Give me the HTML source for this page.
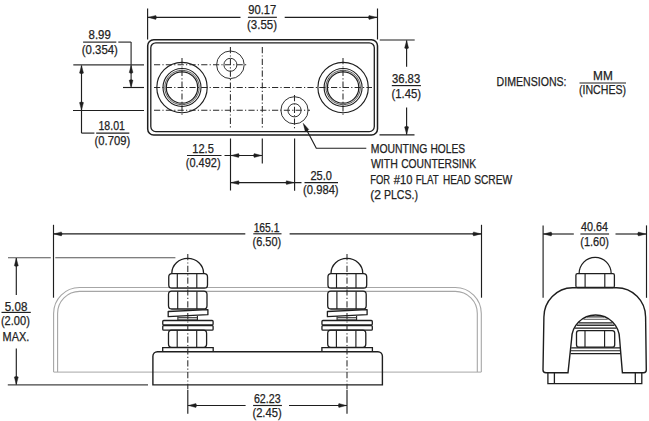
<!DOCTYPE html>
<html><head><meta charset="utf-8"><title>Fuse holder dimensions</title><style>
html,body{margin:0;padding:0;background:#fff;overflow:hidden;}
svg{display:block;}
text{font-family:"Liberation Sans",sans-serif;fill:#222;stroke:#222;stroke-width:0.25px;}
</style></head><body>
<svg width="649" height="421" viewBox="0 0 649 421">
<rect width="649" height="421" fill="#fff"/>
<rect x="147.7" y="39.8" width="229.8" height="95.2" rx="6" ry="6" stroke="#1e1e1e" stroke-width="1.5" fill="none"/>
<rect x="150.8" y="42.8" width="223.5" height="88.8" rx="5" ry="5" stroke="#1e1e1e" stroke-width="1.3" fill="none"/>
<line x1="147.6" y1="8.5" x2="147.6" y2="39.5" stroke="#1e1e1e" stroke-width="1.15" />
<line x1="377.5" y1="8.5" x2="377.5" y2="39.5" stroke="#1e1e1e" stroke-width="1.15" />
<line x1="147.6" y1="17.4" x2="240.5" y2="17.4" stroke="#1e1e1e" stroke-width="1.15" />
<line x1="284.7" y1="17.4" x2="377.5" y2="17.4" stroke="#1e1e1e" stroke-width="1.15" />
<path d="M148.30,17.40 L155.80,15.40 L156.60,17.40 L155.80,19.40 Z" fill="#1e1e1e" stroke="#1e1e1e" stroke-width="0.4"/>
<path d="M376.60,17.40 L369.10,19.40 L368.30,17.40 L369.10,15.40 Z" fill="#1e1e1e" stroke="#1e1e1e" stroke-width="0.4"/>
<line x1="247.9" y1="17.3" x2="276.9" y2="17.3" stroke="#1e1e1e" stroke-width="1.15" />
<line x1="379.7" y1="40" x2="414.7" y2="40" stroke="#1e1e1e" stroke-width="1.15" />
<line x1="379.5" y1="134.9" x2="414.5" y2="134.9" stroke="#1e1e1e" stroke-width="1.15" />
<line x1="406.6" y1="40.5" x2="406.6" y2="66.7" stroke="#1e1e1e" stroke-width="1.15" />
<line x1="406.6" y1="107.5" x2="406.6" y2="134.5" stroke="#1e1e1e" stroke-width="1.15" />
<path d="M406.60,40.60 L408.60,48.10 L406.60,48.90 L404.60,48.10 Z" fill="#1e1e1e" stroke="#1e1e1e" stroke-width="0.4"/>
<path d="M406.60,134.40 L404.60,126.90 L406.60,126.10 L408.60,126.90 Z" fill="#1e1e1e" stroke="#1e1e1e" stroke-width="0.4"/>
<line x1="391.8" y1="85.6" x2="420.9" y2="85.6" stroke="#1e1e1e" stroke-width="1.15" />
<line x1="73.3" y1="64.8" x2="144" y2="64.8" stroke="#333" stroke-width="1.2" />
<line x1="123" y1="87.5" x2="144" y2="87.5" stroke="#1e1e1e" stroke-width="1.15" />
<line x1="73" y1="110.45" x2="144" y2="110.45" stroke="#1e1e1e" stroke-width="1.15" />
<line x1="83.1" y1="42.1" x2="116.3" y2="42.1" stroke="#333" stroke-width="1.2" />
<line x1="118.3" y1="42.1" x2="131.1" y2="42.1" stroke="#333" stroke-width="1.2" />
<line x1="131.1" y1="42.1" x2="131.1" y2="86.5" stroke="#333" stroke-width="1.2" />
<path d="M131.10,65.60 L133.00,72.60 L131.10,73.40 L129.20,72.60 Z" fill="#1e1e1e" stroke="#1e1e1e" stroke-width="0.4"/>
<path d="M131.10,87.30 L129.20,80.30 L131.10,79.50 L133.00,80.30 Z" fill="#1e1e1e" stroke="#1e1e1e" stroke-width="0.4"/>
<line x1="81.5" y1="65.5" x2="81.5" y2="133.1" stroke="#1e1e1e" stroke-width="1.15" />
<line x1="81.5" y1="133.1" x2="94.4" y2="133.1" stroke="#1e1e1e" stroke-width="1.15" />
<line x1="96.2" y1="133.1" x2="129.3" y2="133.1" stroke="#1e1e1e" stroke-width="1.15" />
<path d="M81.50,65.60 L83.50,73.10 L81.50,73.90 L79.50,73.10 Z" fill="#1e1e1e" stroke="#1e1e1e" stroke-width="0.4"/>
<path d="M81.50,110.10 L79.50,102.60 L81.50,101.80 L83.50,102.60 Z" fill="#1e1e1e" stroke="#1e1e1e" stroke-width="0.4"/>
<line x1="154" y1="64.8" x2="248" y2="64.8" stroke="#2a2a2a" stroke-width="1.05" stroke-dasharray="6.2 2.2 1.2 2.2"/>
<line x1="154" y1="87.5" x2="372" y2="87.5" stroke="#2a2a2a" stroke-width="1.05" stroke-dasharray="6.2 2.2 1.2 2.2"/>
<line x1="154" y1="110.3" x2="310" y2="110.3" stroke="#2a2a2a" stroke-width="1.05" stroke-dasharray="6.2 2.2 1.2 2.2"/>
<line x1="182" y1="58" x2="182" y2="117" stroke="#2a2a2a" stroke-width="1.05" stroke-dasharray="6.2 2.2 1.2 2.2"/>
<line x1="343" y1="58" x2="343" y2="117" stroke="#2a2a2a" stroke-width="1.05" stroke-dasharray="6.2 2.2 1.2 2.2"/>
<line x1="230.4" y1="47" x2="230.4" y2="129" stroke="#2a2a2a" stroke-width="1.05" stroke-dasharray="6.2 2.2 1.2 2.2"/>
<line x1="262.3" y1="47" x2="262.3" y2="129" stroke="#2a2a2a" stroke-width="1.05" stroke-dasharray="6.2 2.2 1.2 2.2"/>
<line x1="294.5" y1="95" x2="294.5" y2="129" stroke="#2a2a2a" stroke-width="1.05" stroke-dasharray="6.2 2.2 1.2 2.2"/>
<circle cx="182" cy="87.5" r="25.2" stroke="#1e1e1e" stroke-width="1.15" fill="none"/>
<circle cx="182" cy="87.5" r="19.0" stroke="#1e1e1e" stroke-width="1.1" fill="none"/>
<circle cx="182" cy="87.5" r="17.2" stroke="#444" stroke-width="0.9" fill="none"/>
<circle cx="182" cy="87.5" r="15.7" stroke="#1e1e1e" stroke-width="1.2" fill="none"/>
<circle cx="343.1" cy="87.5" r="25.2" stroke="#1e1e1e" stroke-width="1.15" fill="none"/>
<circle cx="343.1" cy="87.5" r="19.0" stroke="#1e1e1e" stroke-width="1.1" fill="none"/>
<circle cx="343.1" cy="87.5" r="17.2" stroke="#444" stroke-width="0.9" fill="none"/>
<circle cx="343.1" cy="87.5" r="15.7" stroke="#1e1e1e" stroke-width="1.2" fill="none"/>
<circle cx="230.4" cy="64.8" r="13.8" stroke="#333" stroke-width="1.0" fill="none"/>
<circle cx="230.4" cy="64.8" r="6.5" stroke="#333" stroke-width="1.0" fill="none"/>
<circle cx="294.5" cy="110.3" r="13.6" stroke="#333" stroke-width="1.0" fill="none"/>
<circle cx="294.5" cy="110.3" r="6.6" stroke="#333" stroke-width="1.0" fill="none"/>
<line x1="230.5" y1="138.5" x2="230.5" y2="190.5" stroke="#1e1e1e" stroke-width="1.15" />
<line x1="262.3" y1="138.5" x2="262.3" y2="163.5" stroke="#1e1e1e" stroke-width="1.15" />
<line x1="294.6" y1="138.5" x2="294.6" y2="190.7" stroke="#1e1e1e" stroke-width="1.15" />
<line x1="187" y1="155.5" x2="221.5" y2="155.5" stroke="#1e1e1e" stroke-width="1.15" />
<line x1="224.5" y1="155.5" x2="262" y2="155.5" stroke="#1e1e1e" stroke-width="1.15" />
<path d="M231.10,155.50 L238.60,153.60 L239.40,155.50 L238.60,157.40 Z" fill="#1e1e1e" stroke="#1e1e1e" stroke-width="0.4"/>
<path d="M261.70,155.50 L254.20,157.40 L253.40,155.50 L254.20,153.60 Z" fill="#1e1e1e" stroke="#1e1e1e" stroke-width="0.4"/>
<line x1="231" y1="182.6" x2="301.5" y2="182.6" stroke="#1e1e1e" stroke-width="1.15" />
<line x1="304.5" y1="182.6" x2="338" y2="182.6" stroke="#1e1e1e" stroke-width="1.15" />
<path d="M231.10,182.60 L238.60,180.70 L239.40,182.60 L238.60,184.50 Z" fill="#1e1e1e" stroke="#1e1e1e" stroke-width="0.4"/>
<path d="M294.00,182.60 L286.50,184.50 L285.70,182.60 L286.50,180.70 Z" fill="#1e1e1e" stroke="#1e1e1e" stroke-width="0.4"/>
<path d="M304.3,125.5 L316.3,148.2 L366.3,148.2" stroke="#1e1e1e" stroke-width="1.15" fill="none" />
<path d="M303.20,123.30 L308.73,129.41 L307.35,131.06 L305.20,131.30 Z" fill="#1e1e1e" stroke="#1e1e1e" stroke-width="0.4"/>
<line x1="579.5" y1="83" x2="626" y2="83" stroke="#1e1e1e" stroke-width="1.15" />
<path d="M53.6,372 L53.6,313.5 A26,26 0 0 1 79.6,287.5 L455.3,287.5 A26,26 0 0 1 481.3,313.5 L481.3,372" stroke="#a6a6a6" stroke-width="1.1" fill="none" />
<path d="M57.6,372 L57.6,313.5 A22,22 0 0 1 79.6,291.4 L455.3,291.4 A22,22 0 0 1 477.3,313.5 L477.3,372" stroke="#a6a6a6" stroke-width="1.1" fill="none" />
<line x1="53.6" y1="372.1" x2="481.3" y2="372.1" stroke="#a6a6a6" stroke-width="1.0" />
<line x1="53.5" y1="224.8" x2="53.5" y2="297.7" stroke="#1e1e1e" stroke-width="1.15" />
<line x1="481.5" y1="224.8" x2="481.5" y2="297.7" stroke="#1e1e1e" stroke-width="1.15" />
<line x1="53.5" y1="233.9" x2="245.3" y2="233.9" stroke="#1e1e1e" stroke-width="1.15" />
<line x1="289.6" y1="233.9" x2="481.5" y2="233.9" stroke="#1e1e1e" stroke-width="1.15" />
<path d="M53.90,233.90 L61.40,231.90 L62.20,233.90 L61.40,235.90 Z" fill="#1e1e1e" stroke="#1e1e1e" stroke-width="0.4"/>
<path d="M481.00,233.90 L473.50,235.90 L472.70,233.90 L473.50,231.90 Z" fill="#1e1e1e" stroke="#1e1e1e" stroke-width="0.4"/>
<line x1="253.3" y1="233.8" x2="281.5" y2="233.8" stroke="#1e1e1e" stroke-width="1.15" />
<line x1="8" y1="257.7" x2="50.8" y2="257.7" stroke="#555" stroke-width="1.1" />
<line x1="55.3" y1="257.7" x2="175.4" y2="257.7" stroke="#555" stroke-width="1.1" />
<line x1="7.8" y1="384.85" x2="148" y2="384.85" stroke="#444" stroke-width="1.2" />
<line x1="16.3" y1="258" x2="16.3" y2="295.1" stroke="#1e1e1e" stroke-width="1.15" />
<line x1="16.3" y1="348.4" x2="16.3" y2="384.5" stroke="#1e1e1e" stroke-width="1.15" />
<path d="M16.30,258.30 L18.30,265.80 L16.30,266.60 L14.30,265.80 Z" fill="#1e1e1e" stroke="#1e1e1e" stroke-width="0.4"/>
<path d="M16.30,384.50 L14.30,377.00 L16.30,376.20 L18.30,377.00 Z" fill="#1e1e1e" stroke="#1e1e1e" stroke-width="0.4"/>
<line x1="1.5" y1="312.4" x2="30.8" y2="312.4" stroke="#1e1e1e" stroke-width="1.15" />
<path d="M152.9,384.9 L152.9,356.3 A4.5,4.5 0 0 1 157.4,351.8 L377.9,351.8 A4.5,4.5 0 0 1 382.4,356.3 L382.4,384.9 Z" stroke="#1e1e1e" stroke-width="1.4" fill="none" />
<path d="M171.8,273.2 A15.8,14.8 0 0 1 203.6,273.2" stroke="#1e1e1e" stroke-width="1.3" fill="none" />
<rect x="168.75" y="273.7" width="38.75" height="14.400000000000034" rx="3.2" ry="3.2" stroke="#1e1e1e" stroke-width="1.3" fill="none"/>
<line x1="177.3" y1="274" x2="177.3" y2="288" stroke="#1e1e1e" stroke-width="1.15" />
<line x1="196.8" y1="274" x2="196.8" y2="288" stroke="#1e1e1e" stroke-width="1.15" />
<rect x="168.5" y="291.2" width="38.5" height="17.80000000000001" rx="3.2" ry="3.2" stroke="#1e1e1e" stroke-width="1.3" fill="none"/>
<line x1="177.7" y1="291.5" x2="177.7" y2="309" stroke="#1e1e1e" stroke-width="1.15" />
<line x1="196.9" y1="291.5" x2="196.9" y2="309" stroke="#1e1e1e" stroke-width="1.15" />
<path d="M168.2,311.5 L207.9,309.6 L207.9,314.7 L168.2,316.6 Z" stroke="#1e1e1e" stroke-width="1.3" fill="none" stroke-linejoin="round"/>
<line x1="177.9" y1="316.3" x2="177.9" y2="320.4" stroke="#1e1e1e" stroke-width="1.1" />
<line x1="197.4" y1="316" x2="197.4" y2="320.4" stroke="#1e1e1e" stroke-width="1.1" />
<line x1="178.2" y1="317.5" x2="197.1" y2="317.5" stroke="#3a3a3a" stroke-width="0.9" />
<line x1="178.2" y1="319.2" x2="197.1" y2="319.2" stroke="#3a3a3a" stroke-width="0.9" />
<rect x="162.75" y="320.5" width="50.349999999999994" height="4.5" rx="1.0" ry="1.0" stroke="#1e1e1e" stroke-width="1.3" fill="none"/>
<rect x="162.75" y="325.6" width="50.349999999999994" height="4.599999999999966" rx="1.0" ry="1.0" stroke="#1e1e1e" stroke-width="1.3" fill="none"/>
<rect x="168.5" y="330.2" width="38.099999999999994" height="17.100000000000023" rx="3.2" ry="3.2" stroke="#1e1e1e" stroke-width="1.3" fill="none"/>
<line x1="177.2" y1="330.5" x2="177.2" y2="347" stroke="#1e1e1e" stroke-width="1.15" />
<line x1="196.7" y1="330.5" x2="196.7" y2="347" stroke="#1e1e1e" stroke-width="1.15" />
<path d="M162.7,351.8 L162.7,347.6 L213.2,347.6 L213.2,351.8" stroke="#1e1e1e" stroke-width="1.3" fill="none" />
<line x1="187.8" y1="254" x2="187.8" y2="389" stroke="#2a2a2a" stroke-width="1.05" stroke-dasharray="6.2 2.2 1.2 2.2"/>
<path d="M331.0,273.2 A15.8,14.8 0 0 1 362.8,273.2" stroke="#1e1e1e" stroke-width="1.3" fill="none" />
<rect x="327.95" y="273.7" width="38.75" height="14.400000000000034" rx="3.2" ry="3.2" stroke="#1e1e1e" stroke-width="1.3" fill="none"/>
<line x1="336.5" y1="274" x2="336.5" y2="288" stroke="#1e1e1e" stroke-width="1.15" />
<line x1="356.0" y1="274" x2="356.0" y2="288" stroke="#1e1e1e" stroke-width="1.15" />
<rect x="327.7" y="291.2" width="38.5" height="17.80000000000001" rx="3.2" ry="3.2" stroke="#1e1e1e" stroke-width="1.3" fill="none"/>
<line x1="336.9" y1="291.5" x2="336.9" y2="309" stroke="#1e1e1e" stroke-width="1.15" />
<line x1="356.1" y1="291.5" x2="356.1" y2="309" stroke="#1e1e1e" stroke-width="1.15" />
<path d="M327.4,311.5 L367.1,309.6 L367.1,314.7 L327.4,316.6 Z" stroke="#1e1e1e" stroke-width="1.3" fill="none" stroke-linejoin="round"/>
<line x1="337.1" y1="316.3" x2="337.1" y2="320.4" stroke="#1e1e1e" stroke-width="1.1" />
<line x1="356.6" y1="316" x2="356.6" y2="320.4" stroke="#1e1e1e" stroke-width="1.1" />
<line x1="337.4" y1="317.5" x2="356.3" y2="317.5" stroke="#3a3a3a" stroke-width="0.9" />
<line x1="337.4" y1="319.2" x2="356.3" y2="319.2" stroke="#3a3a3a" stroke-width="0.9" />
<rect x="321.95" y="320.5" width="50.35000000000002" height="4.5" rx="1.0" ry="1.0" stroke="#1e1e1e" stroke-width="1.3" fill="none"/>
<rect x="321.95" y="325.6" width="50.35000000000002" height="4.599999999999966" rx="1.0" ry="1.0" stroke="#1e1e1e" stroke-width="1.3" fill="none"/>
<rect x="327.7" y="330.2" width="38.10000000000002" height="17.100000000000023" rx="3.2" ry="3.2" stroke="#1e1e1e" stroke-width="1.3" fill="none"/>
<line x1="336.4" y1="330.5" x2="336.4" y2="347" stroke="#1e1e1e" stroke-width="1.15" />
<line x1="355.9" y1="330.5" x2="355.9" y2="347" stroke="#1e1e1e" stroke-width="1.15" />
<path d="M321.9,351.8 L321.9,347.6 L372.4,347.6 L372.4,351.8" stroke="#1e1e1e" stroke-width="1.3" fill="none" />
<line x1="347" y1="254" x2="347" y2="389" stroke="#2a2a2a" stroke-width="1.05" stroke-dasharray="6.2 2.2 1.2 2.2"/>
<line x1="187.8" y1="389.8" x2="187.8" y2="413.8" stroke="#1e1e1e" stroke-width="1.15" />
<line x1="347" y1="389.8" x2="347" y2="413.8" stroke="#1e1e1e" stroke-width="1.15" />
<line x1="187.8" y1="405.5" x2="245.6" y2="405.5" stroke="#1e1e1e" stroke-width="1.15" />
<line x1="289" y1="405.5" x2="347" y2="405.5" stroke="#1e1e1e" stroke-width="1.15" />
<path d="M188.40,405.50 L195.90,403.50 L196.70,405.50 L195.90,407.50 Z" fill="#1e1e1e" stroke="#1e1e1e" stroke-width="0.4"/>
<path d="M346.40,405.50 L338.90,407.50 L338.10,405.50 L338.90,403.50 Z" fill="#1e1e1e" stroke="#1e1e1e" stroke-width="0.4"/>
<line x1="253.1" y1="405.5" x2="281.9" y2="405.5" stroke="#1e1e1e" stroke-width="1.15" />
<line x1="543.1" y1="225.4" x2="543.1" y2="297.8" stroke="#1e1e1e" stroke-width="1.15" />
<line x1="646.5" y1="225.4" x2="646.5" y2="297.8" stroke="#1e1e1e" stroke-width="1.15" />
<line x1="543.1" y1="234" x2="573.8" y2="234" stroke="#1e1e1e" stroke-width="1.15" />
<line x1="615.5" y1="234" x2="646.5" y2="234" stroke="#1e1e1e" stroke-width="1.15" />
<path d="M543.70,234.00 L551.20,232.00 L552.00,234.00 L551.20,236.00 Z" fill="#1e1e1e" stroke="#1e1e1e" stroke-width="0.4"/>
<path d="M645.90,234.00 L638.40,236.00 L637.60,234.00 L638.40,232.00 Z" fill="#1e1e1e" stroke="#1e1e1e" stroke-width="0.4"/>
<line x1="580.4" y1="234" x2="609.1" y2="234" stroke="#1e1e1e" stroke-width="1.15" />
<path d="M579.1,273.8 A16,16.4 0 0 1 611.2,273.8" stroke="#1e1e1e" stroke-width="1.3" fill="none" />
<rect x="575.9" y="273.7" width="38.5" height="13.800000000000011" rx="1.5" ry="1.5" stroke="#1e1e1e" stroke-width="1.3" fill="none"/>
<line x1="585.1" y1="274" x2="585.1" y2="287.4" stroke="#1e1e1e" stroke-width="1.15" />
<line x1="604.8" y1="274" x2="604.8" y2="287.4" stroke="#1e1e1e" stroke-width="1.15" />
<path d="M543,370 L543.9,317 A29,29.3 0 0 1 572.5,287.7 L616.5,287.7 A29,29.3 0 0 1 645.6,317 L646.3,370 Q646.3,372.7 643.5,372.7 L622.4,372.7 L619.6,339 A24,24 0 0 0 571.6,339 L568,372.7 L546,372.7 Q543,372.7 543,370 Z" stroke="#1e1e1e" stroke-width="1.4" fill="none" />
<path d="M547.9,372.7 L547.9,383.7 L641.8,383.7 L641.8,372.7 M554.4,372.7 L554.4,383.7 M635.3,372.7 L635.3,383.7" stroke="#1e1e1e" stroke-width="1.3" fill="none" />
<line x1="587" y1="316.9" x2="604" y2="316.9" stroke="#1e1e1e" stroke-width="1.1" />
<line x1="583.5" y1="319.3" x2="607.7" y2="319.3" stroke="#555" stroke-width="1.0" />
<line x1="578.7" y1="322.8" x2="612.5" y2="322.8" stroke="#1e1e1e" stroke-width="1.2" />
<line x1="576.8" y1="325.2" x2="614.4" y2="325.2" stroke="#333" stroke-width="1.4" />
<line x1="574.8" y1="328.2" x2="616.4" y2="328.2" stroke="#1e1e1e" stroke-width="1.2" />
<rect x="576.5" y="330.6" width="38.200000000000045" height="16.599999999999966" rx="2.5" ry="2.5" stroke="#1e1e1e" stroke-width="1.3" fill="none"/>
<line x1="585" y1="331" x2="585" y2="347" stroke="#1e1e1e" stroke-width="1.15" />
<line x1="604.6" y1="331" x2="604.6" y2="347" stroke="#1e1e1e" stroke-width="1.15" />
<line x1="571.2" y1="347.8" x2="620.2" y2="347.8" stroke="#1e1e1e" stroke-width="1.2" />
<line x1="570.9" y1="350.8" x2="620.6" y2="350.8" stroke="#1e1e1e" stroke-width="1.1" />
<line x1="570.6" y1="353.7" x2="620.9" y2="353.7" stroke="#1e1e1e" stroke-width="1.2" />
<text x="248.24" y="14.06" font-size="11.90" textLength="27.93" lengthAdjust="spacingAndGlyphs">90.17</text>
<text x="247.06" y="29.04" font-size="12.60" textLength="29.94" lengthAdjust="spacingAndGlyphs">(3.55)</text>
<text x="391.93" y="82.68" font-size="11.90" textLength="28.26" lengthAdjust="spacingAndGlyphs">36.83</text>
<text x="391.40" y="97.52" font-size="12.60" textLength="29.69" lengthAdjust="spacingAndGlyphs">(1.45)</text>
<text x="88.59" y="39.20" font-size="11.90" textLength="22.21" lengthAdjust="spacingAndGlyphs">8.99</text>
<text x="81.77" y="53.76" font-size="12.60" textLength="36.12" lengthAdjust="spacingAndGlyphs">(0.354)</text>
<text x="98.46" y="129.58" font-size="11.90" textLength="26.44" lengthAdjust="spacingAndGlyphs">18.01</text>
<text x="94.59" y="145.08" font-size="12.60" textLength="35.65" lengthAdjust="spacingAndGlyphs">(0.709)</text>
<text x="192.31" y="153.41" font-size="11.90" textLength="21.52" lengthAdjust="spacingAndGlyphs">12.5</text>
<text x="185.84" y="167.08" font-size="12.60" textLength="34.72" lengthAdjust="spacingAndGlyphs">(0.492)</text>
<text x="310.49" y="179.86" font-size="11.90" textLength="21.43" lengthAdjust="spacingAndGlyphs">25.0</text>
<text x="303.10" y="194.17" font-size="12.60" textLength="35.50" lengthAdjust="spacingAndGlyphs">(0.984)</text>
<text x="370.73" y="152.80" font-size="12.40" textLength="56.66" lengthAdjust="spacingAndGlyphs">MOUNTING</text>
<text x="430.43" y="152.80" font-size="12.40" textLength="34.67" lengthAdjust="spacingAndGlyphs">HOLES</text>
<text x="370.88" y="168.00" font-size="12.40" textLength="26.95" lengthAdjust="spacingAndGlyphs">WITH</text>
<text x="401.13" y="168.00" font-size="12.40" textLength="74.89" lengthAdjust="spacingAndGlyphs">COUNTERSINK</text>
<text x="370.23" y="183.80" font-size="12.40" textLength="19.86" lengthAdjust="spacingAndGlyphs">FOR</text>
<text x="393.80" y="183.80" font-size="12.40" textLength="18.58" lengthAdjust="spacingAndGlyphs">#10</text>
<text x="415.68" y="183.80" font-size="12.40" textLength="22.99" lengthAdjust="spacingAndGlyphs">FLAT</text>
<text x="442.92" y="183.80" font-size="12.40" textLength="27.85" lengthAdjust="spacingAndGlyphs">HEAD</text>
<text x="474.15" y="183.80" font-size="12.40" textLength="38.05" lengthAdjust="spacingAndGlyphs">SCREW</text>
<text x="370.18" y="198.90" font-size="12.60" textLength="10.77" lengthAdjust="spacingAndGlyphs">(2</text>
<text x="383.94" y="198.90" font-size="12.60" textLength="34.04" lengthAdjust="spacingAndGlyphs">PLCS.)</text>
<text x="496.60" y="86.36" font-size="12.40" textLength="69.93" lengthAdjust="spacingAndGlyphs">DIMENSIONS:</text>
<text x="593.06" y="79.94" font-size="12.40" textLength="19.69" lengthAdjust="spacingAndGlyphs">MM</text>
<text x="579.02" y="94.40" font-size="12.60" textLength="47.04" lengthAdjust="spacingAndGlyphs">(INCHES)</text>
<text x="253.65" y="231.51" font-size="11.90" textLength="25.75" lengthAdjust="spacingAndGlyphs">165.1</text>
<text x="252.55" y="245.80" font-size="12.60" textLength="28.67" lengthAdjust="spacingAndGlyphs">(6.50)</text>
<text x="4.80" y="310.58" font-size="11.90" textLength="22.54" lengthAdjust="spacingAndGlyphs">5.08</text>
<text x="0.95" y="324.70" font-size="12.60" textLength="28.92" lengthAdjust="spacingAndGlyphs">(2.00)</text>
<text x="2.55" y="340.85" font-size="12.40" textLength="26.70" lengthAdjust="spacingAndGlyphs">MAX.</text>
<text x="253.89" y="402.94" font-size="11.90" textLength="26.70" lengthAdjust="spacingAndGlyphs">62.23</text>
<text x="252.41" y="417.26" font-size="12.60" textLength="29.21" lengthAdjust="spacingAndGlyphs">(2.45)</text>
<text x="581.08" y="231.10" font-size="11.90" textLength="27.01" lengthAdjust="spacingAndGlyphs">40.64</text>
<text x="580.31" y="246.44" font-size="12.60" textLength="28.68" lengthAdjust="spacingAndGlyphs">(1.60)</text>
</svg>
</body></html>
